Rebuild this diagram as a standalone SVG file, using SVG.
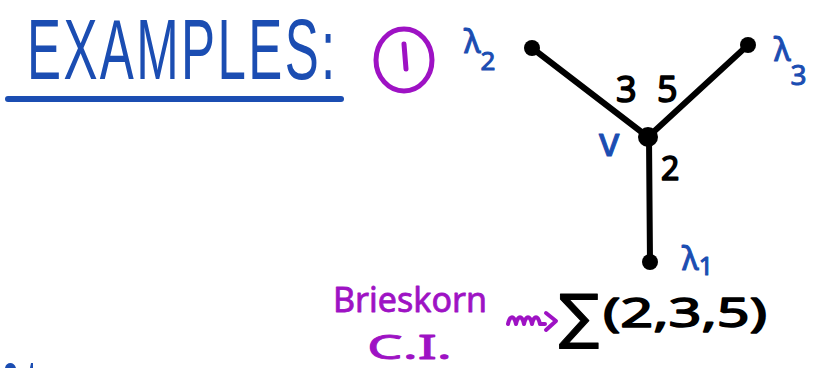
<svg xmlns="http://www.w3.org/2000/svg" width="835" height="368" viewBox="0 0 835 368">
  <style>
    .blue { fill: #1b4db2; stroke: #1b4db2; stroke-linejoin: round; }
    .purple { fill: #9e12c4; stroke: #9e12c4; stroke-linejoin: round; }
    .ink { fill: #000; stroke: #000; stroke-linejoin: round; }
    text { font-family: "Noto Sans", "DejaVu Sans", sans-serif; }
    text.heading { font-family: "Liberation Sans", Arial, sans-serif; }
    .edge { stroke: #000; stroke-width: 6; stroke-linecap: round; fill: none; }
    .dot { fill: #000; }
  </style>

  <rect width="835" height="368" fill="#fff"/>

  <!-- heading -->
  <g id="title">
    <text class="blue heading" transform="translate(27,79) scale(0.6,1)" x="0" y="0" font-size="85" stroke-width="0" letter-spacing="4">EXAMPLES:</text>
    <line x1="8" y1="99" x2="341" y2="99" stroke="#1b4db2" stroke-width="6" stroke-linecap="round"/>
  </g>

  <!-- circled example number -->
  <g id="example-number">
    <ellipse cx="404" cy="60" rx="28" ry="31" fill="none" stroke="#9e12c4" stroke-width="5"/>
    <line x1="404" y1="44" x2="406" y2="69" stroke="#9e12c4" stroke-width="5" stroke-linecap="round"/>
  </g>

  <!-- edges of the plumbing graph with their weights -->
  <g id="connectors">
    <line class="edge" x1="648" y1="137" x2="532" y2="48"/>
    <line class="edge" x1="648" y1="137" x2="748" y2="45"/>
    <line class="edge" x1="649" y1="137" x2="650" y2="262"/>
    <text class="ink" x="616" y="102" font-size="36" stroke-width="1.5">3</text>
    <text class="ink" x="657" y="102" font-size="36" stroke-width="1.5">5</text>
    <text class="ink" x="661" y="180" font-size="32" stroke-width="1.5">2</text>
  </g>

  <g id="node-v">
    <circle class="dot" cx="648" cy="137" r="10"/>
    <text class="blue" x="599" y="156" font-size="40" stroke-width="1">v</text>
  </g>

  <g id="node-lambda2">
    <circle class="dot" cx="532" cy="48" r="8"/>
    <text class="blue" x="464" y="53" font-size="32" stroke-width="1">λ<tspan dy="17" font-size="26">2</tspan></text>
  </g>

  <g id="node-lambda3">
    <circle class="dot" cx="748" cy="45" r="8"/>
    <text class="blue" x="774" y="61" font-size="32" stroke-width="1">λ<tspan dy="24" font-size="28">3</tspan></text>
  </g>

  <g id="node-lambda1">
    <circle class="dot" cx="650" cy="262" r="8"/>
    <text class="blue" x="682" y="270" font-size="32" stroke-width="1">λ<tspan dy="5" font-size="26">1</tspan></text>
  </g>

  <!-- Brieskorn complete intersection and its homology sphere -->
  <g id="formula">
    <text class="purple" x="333" y="312" font-size="34" stroke-width="0.8" textLength="154" lengthAdjust="spacingAndGlyphs">Brieskorn</text>
    <text class="purple" x="367" y="359" font-size="32" stroke-width="0.8" textLength="85" lengthAdjust="spacingAndGlyphs">C.I.</text>
    <path d="M508,324 c2,-9 6,-9 8,0 c2,-9 6,-9 8,0 c2,-9 6,-9 8,0 c2,-9 6,-9 8,0 l5,0" fill="none" stroke="#9e12c4" stroke-width="4" stroke-linecap="round" stroke-linejoin="round"/>
    <path d="M546,313 L556,321 L546,330" fill="none" stroke="#9e12c4" stroke-width="4" stroke-linecap="round" stroke-linejoin="round"/>
    <text class="ink" x="559" y="337" font-size="60" stroke-width="1">∑</text>
    <text class="ink" x="603" y="327" font-size="40" stroke-width="1.5" textLength="164" lengthAdjust="spacingAndGlyphs">(2,3,5)</text>
  </g>

  <!-- marks at the bottom edge -->
  <g id="edge-marks" fill="#1b4db2">
    <path d="M5,368 C6,362 14,361 16,368 Z"/>
    <path d="M30,368 L31,363 L33,363 L33,368 Z"/>
  </g>
</svg>
